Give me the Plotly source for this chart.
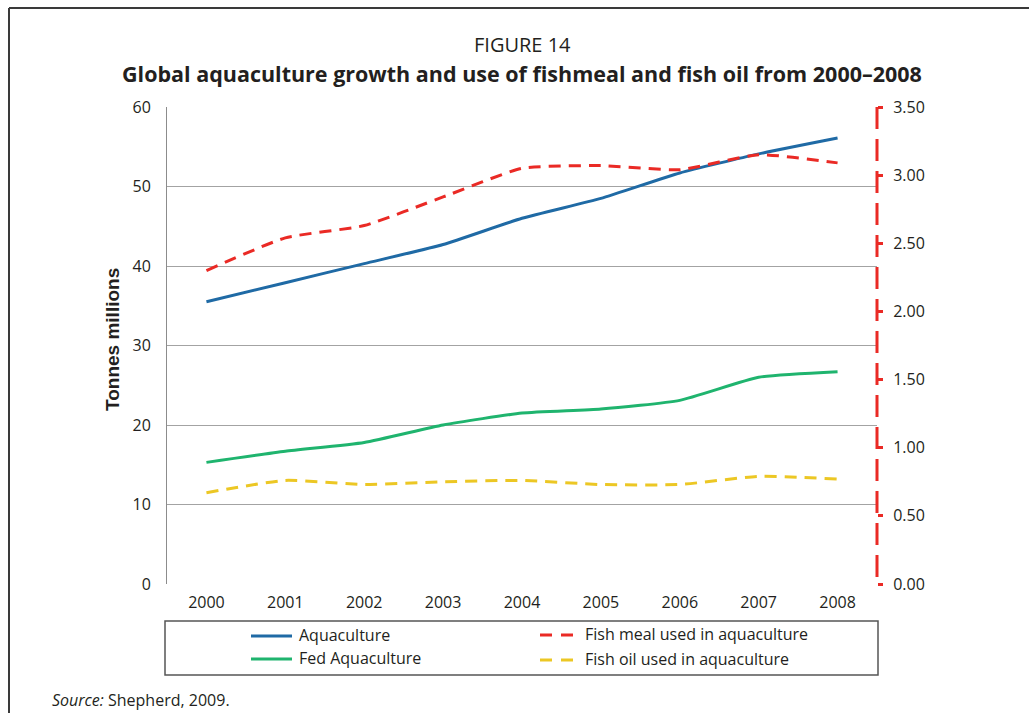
import plotly.graph_objects as go

years = ["2000", "2001", "2002", "2003", "2004", "2005", "2006", "2007", "2008"]
aquaculture = [35.5, 37.9, 40.3, 42.7, 46.0, 48.5, 51.7, 54.1, 56.1]
fed_aquaculture = [15.3, 16.7, 17.8, 20.0, 21.5, 22.0, 23.1, 26.0, 26.7]
fish_meal = [2.30, 2.54, 2.63, 2.84, 3.05, 3.07, 3.04, 3.15, 3.09]
fish_oil = [0.67, 0.76, 0.73, 0.75, 0.76, 0.73, 0.73, 0.79, 0.77]

left_ticks = [0, 10, 20, 30, 40, 50, 60]
right_ticks = [0.0, 0.5, 1.0, 1.5, 2.0, 2.5, 3.0, 3.5]

BLUE = "#1f6aa5"
GREEN = "#1fb46e"
RED = "#ea2a25"
YELLOW = "#ecc724"
TXT = "#231f20"

W, H = 1029, 713
L, R, T, B = 167, 877, 107, 584


def px(x):
    return (x - L) / (R - L)


def py(y):
    return (B - y) / (B - T)


fig = go.Figure()
fig.add_trace(go.Scatter(x=years, y=aquaculture, mode="lines", name="Aquaculture",
                         line=dict(color=BLUE, width=3, shape="spline", smoothing=0.5)))
fig.add_trace(go.Scatter(x=years, y=fed_aquaculture, mode="lines", name="Fed Aquaculture",
                         line=dict(color=GREEN, width=3, shape="spline", smoothing=0.5)))
fig.add_trace(go.Scatter(x=years, y=fish_meal, mode="lines", name="Fish meal used in aquaculture",
                         yaxis="y2",
                         line=dict(color=RED, width=3, dash="12px,8px", shape="spline", smoothing=0.5)))
fig.add_trace(go.Scatter(x=years, y=fish_oil, mode="lines", name="Fish oil used in aquaculture",
                         yaxis="y2",
                         line=dict(color=YELLOW, width=3, dash="12px,8px", shape="spline", smoothing=0.5)))

fig.update_layout(
    width=W, height=H,
    margin=dict(l=L, r=W - R, t=T, b=H - B, pad=0),
    paper_bgcolor="white", plot_bgcolor="white",
    showlegend=False,
    font=dict(family="Open Sans", size=16, color=TXT),
    xaxis=dict(type="category", categoryorder="array", categoryarray=years,
               range=[-0.5, 8.5], showgrid=False, zeroline=False, showline=False,
               ticks="", ticklabelstandoff=7,
               tickfont=dict(family="Open Sans", size=16, color=TXT)),
    yaxis=dict(range=[0, 60], tickvals=left_ticks, showgrid=True, gridcolor="#a3a3a3",
               gridwidth=1, zeroline=False, showline=True, linecolor="#8c8c8c", linewidth=1,
               ticks="", ticklabelstandoff=12,
               tickfont=dict(family="Open Sans", size=16, color=TXT)),
    yaxis2=dict(range=[0, 3.5], tickvals=right_ticks, tickformat=".2f", overlaying="y",
                side="right", showgrid=False, zeroline=False, showline=False,
                ticks="outside", ticklen=5, tickwidth=2.5, tickcolor=RED,
                ticklabelstandoff=7,
                tickfont=dict(family="Open Sans", size=16, color=TXT)),
)

shapes = []
# red dashed right axis
shapes.append(dict(type="line", xref="paper", yref="paper", x0=1, x1=1, y0=1, y1=0,
                   line=dict(color=RED, width=3, dash="22px,10px")))
# outer frame (top + left)
shapes.append(dict(type="line", xref="paper", yref="paper", x0=px(9), x1=px(1035),
                   y0=py(8), y1=py(8), line=dict(color="#3a3a3a", width=2)))
shapes.append(dict(type="line", xref="paper", yref="paper", x0=px(9), x1=px(9),
                   y0=py(8), y1=py(720), line=dict(color="#3a3a3a", width=2)))
# legend box
shapes.append(dict(type="rect", xref="paper", yref="paper", x0=px(165), x1=px(878),
                   y0=py(675), y1=py(621), line=dict(color="#555555", width=1.5),
                   fillcolor="rgba(0,0,0,0)"))
# legend samples
legend_items = [
    ("Aquaculture", BLUE, "solid", 251, 292, 636, 297),
    ("Fed Aquaculture", GREEN, "solid", 251, 292, 659, 297),
    ("Fish meal used in aquaculture", RED, "12px,9px", 540, 573, 635, 583),
    ("Fish oil used in aquaculture", YELLOW, "12px,9px", 540, 573, 660, 583),
]
annotations = []
for name, col, dash, x0, x1, yy, tx in legend_items:
    shapes.append(dict(type="line", xref="paper", yref="paper", x0=px(x0), x1=px(x1),
                       y0=py(yy), y1=py(yy), line=dict(color=col, width=3, dash=dash)))
    annotations.append(dict(xref="paper", yref="paper", x=px(tx), y=py(yy - 1), text=name,
                            showarrow=False, xanchor="left", yanchor="middle",
                            font=dict(family="Open Sans", size=16, color=TXT)))

annotations += [
    dict(xref="paper", yref="paper", x=px(522), y=py(44), text="FIGURE 14", showarrow=False,
         xanchor="center", yanchor="middle", font=dict(family="Open Sans", size=20, color=TXT)),
    dict(xref="paper", yref="paper", x=px(522), y=py(73),
         text="<b>Global aquaculture growth and use of fishmeal and fish oil from 2000–2008</b>",
         showarrow=False, xanchor="center", yanchor="middle",
         font=dict(family="Open Sans", size=21.5, color=TXT)),
    dict(xref="paper", yref="paper", x=px(112), y=py(340), text="<b>Tonnes millions</b>",
         showarrow=False, textangle=-90, xanchor="center", yanchor="middle",
         font=dict(family="Liberation Sans", size=19, color=TXT)),
    dict(xref="paper", yref="paper", x=px(50), y=py(700),
         text="<i>Source:</i> Shepherd, 2009.", showarrow=False, xanchor="left",
         yanchor="middle", font=dict(family="Open Sans", size=16, color=TXT)),
]

fig.update_layout(shapes=shapes, annotations=annotations)
fig.write_html("out.html", config={"displayModeBar": False})

# remove the default 8px body margin so the figure sits at the page origin
with open("out.html", "r", encoding="utf-8") as f:
    html = f.read()
html = html.replace("<head>", "<head><style>html,body{margin:0;padding:0;overflow:hidden;}</style>", 1)
with open("out.html", "w", encoding="utf-8") as f:
    f.write(html)
